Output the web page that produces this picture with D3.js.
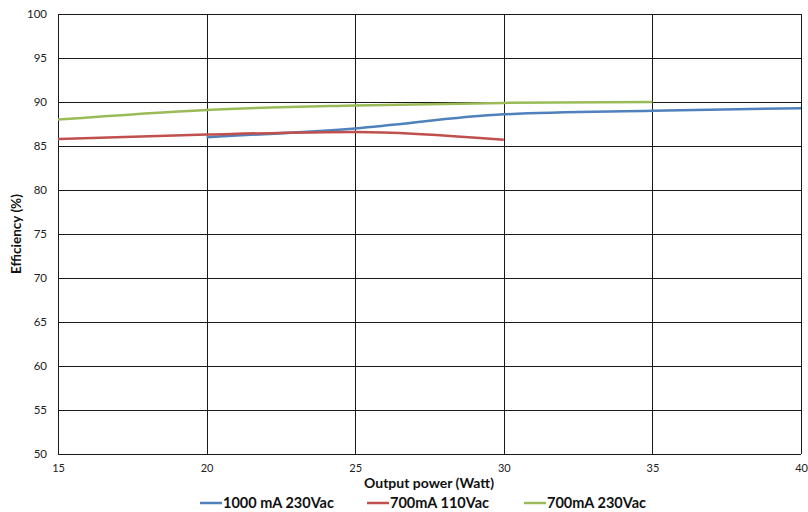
<!DOCTYPE html>
<html>
<head>
<meta charset="utf-8">
<script src="https://cdn.jsdelivr.net/npm/d3@7"></script>
<style>
  body { margin: 0; background: #fff; }
  text { font-family: Lato, "Open Sans", sans-serif; }
</style>
</head>
<body>
<div id="chart"></div>
<script>
// data
var xTicks = [15, 20, 25, 30, 35, 40];
var yTicks = [50, 55, 60, 65, 70, 75, 80, 85, 90, 95, 100];

var blueX = [20, 25, 30, 35, 40];
var blueY = [86.0, 87.0, 88.6, 89.0, 89.3];

var redX = [15, 20, 25, 30];
var redY = [85.8, 86.3, 86.6, 85.7];

var greenX = [15, 20, 25, 30, 35];
var greenY = [88.0, 89.1, 89.6, 89.9, 90.0];

var seriesNames = ["1000 mA 230Vac", "700mA 110Vac", "700mA 230Vac"];
var seriesColors = ["#4F81BD", "#C0504D", "#9BBB59"];

var svgWidth = 808;
var svgHeight = 512;
var margin = { top: 14, right: 7, bottom: 58, left: 58 };
var width = svgWidth - margin.left - margin.right;
var height = svgHeight - margin.top - margin.bottom;

var svg = d3.select("#chart")
  .append("svg")
  .attr("width", svgWidth)
  .attr("height", svgHeight);

var chartGroup = svg.append("g")
  .attr("transform", `translate(${margin.left}, ${margin.top})`);

var x = d3.scaleLinear().domain([15, 40]).range([0, width]);
var y = d3.scaleLinear().domain([50, 100]).range([height, 0]);

// gridlines
chartGroup.append("g")
  .selectAll("line")
  .data(yTicks)
  .enter()
  .append("line")
  .attr("x1", 0)
  .attr("x2", width)
  .attr("y1", d => Math.round(y(d)) + 0.5)
  .attr("y2", d => Math.round(y(d)) + 0.5)
  .attr("stroke", "#1a1a1a")
  .attr("stroke-width", 1);

chartGroup.append("g")
  .selectAll("line")
  .data(xTicks)
  .enter()
  .append("line")
  .attr("x1", d => Math.round(x(d)) + 0.5)
  .attr("x2", d => Math.round(x(d)) + 0.5)
  .attr("y1", 0)
  .attr("y2", height)
  .attr("stroke", "#1a1a1a")
  .attr("stroke-width", 1);

// axes (tick labels only)
var leftAxis = d3.axisLeft(y).tickValues(yTicks).tickSize(0).tickPadding(11);
var bottomAxis = d3.axisBottom(x).tickValues(xTicks).tickSize(0).tickPadding(10);

var yAxis = chartGroup.append("g").call(leftAxis);
yAxis.select(".domain").remove();
yAxis.selectAll("text").attr("font-size", "11.5px").attr("fill", "#222")
  .style("font-family", "Lato, sans-serif");

var xAxis = chartGroup.append("g")
  .attr("transform", `translate(0, ${height})`)
  .call(bottomAxis);
xAxis.select(".domain").remove();
xAxis.selectAll("text").attr("font-size", "11px").attr("fill", "#222")
  .style("font-family", "Lato, sans-serif");

// lines
var line = d3.line()
  .x(d => x(d[0]))
  .y(d => y(d[1]))
  .curve(d3.curveMonotoneX);

var series = [
  d3.zip(blueX, blueY),
  d3.zip(redX, redY),
  d3.zip(greenX, greenY)
];

chartGroup.selectAll(".series")
  .data(series)
  .enter()
  .append("path")
  .attr("class", "series")
  .attr("d", d => line(d))
  .attr("fill", "none")
  .attr("stroke", (d, i) => seriesColors[i])
  .attr("stroke-width", 2.5);

// axis titles
svg.append("text")
  .attr("x", 429)
  .attr("y", 488)
  .attr("text-anchor", "middle")
  .attr("font-size", "14px")
  .attr("font-weight", "bold")
  .attr("fill", "#111")
  .text("Output power (Watt)");

svg.append("text")
  .attr("transform", `translate(21, ${margin.top + height / 2}) rotate(-90)`)
  .attr("text-anchor", "middle")
  .attr("font-size", "13.5px")
  .attr("font-weight", "bold")
  .attr("fill", "#111")
  .text("Efficiency (%)");

// legend
var legendX = [200, 367, 524];
var legend = svg.append("g");
seriesNames.forEach(function(name, i) {
  legend.append("line")
    .attr("x1", legendX[i])
    .attr("x2", legendX[i] + 22)
    .attr("y1", 503)
    .attr("y2", 503)
    .attr("stroke", seriesColors[i])
    .attr("stroke-width", 2.5);
  legend.append("text")
    .attr("x", legendX[i] + 23)
    .attr("y", 508)
    .attr("font-size", "14.5px")
    .attr("font-weight", "bold")
    .attr("fill", "#111")
    .text(name);
});
</script>
</body>
</html>
